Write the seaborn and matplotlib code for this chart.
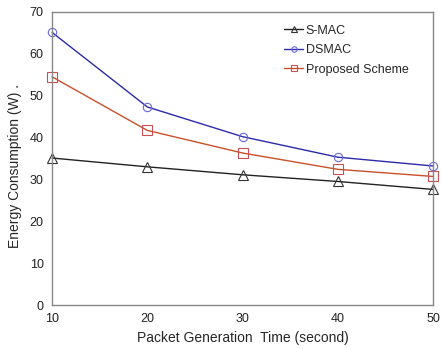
import seaborn as sns
import matplotlib.pyplot as plt
import pandas as pd

# data
packet_time = [10, 20, 30, 40, 50]
smac = [35.1, 33.0, 31.1, 29.5, 27.6]
dsmac = [65.1, 47.3, 40.2, 35.3, 33.2]
proposed = [54.5, 41.7, 36.3, 32.4, 30.7]

df = pd.DataFrame({
    "time": packet_time * 3,
    "energy": smac + dsmac + proposed,
    "scheme": ["S-MAC"] * 5 + ["DSMAC"] * 5 + ["Proposed Scheme"] * 5,
})

sns.set_style("white")
plt.rcParams['font.family'] = ['Liberation Sans', 'DejaVu Sans']

fig = plt.figure(figsize=(4.41, 3.49), dpi=100)
ax = fig.add_axes([0.118, 0.126, 0.864, 0.840])

line_colors = {"S-MAC": "#222222", "DSMAC": "#2b2ba8", "Proposed Scheme": "#c8502a"}
marker_colors = {"S-MAC": "#333333", "DSMAC": "#6a6ad8", "Proposed Scheme": "#c85050"}
markers = {"S-MAC": "^", "DSMAC": "o", "Proposed Scheme": "s"}
msizes = {"S-MAC": 7, "DSMAC": 6, "Proposed Scheme": 7.5}

for name in ["S-MAC", "DSMAC", "Proposed Scheme"]:
    sns.lineplot(data=df[df.scheme == name], x="time", y="energy", ax=ax,
                 color=line_colors[name], lw=1.0, marker=markers[name],
                 markersize=msizes[name], markerfacecolor="none",
                 markeredgecolor=marker_colors[name], markeredgewidth=0.8,
                 label=name, clip_on=False)

ax.set_xlim(10, 50)
ax.set_ylim(0, 70)
ax.set_xticks(packet_time)
ax.set_yticks(range(0, 71, 10))
ax.tick_params(direction="in", length=3, labelsize=9, colors="#222222", pad=6)
for s in ax.spines.values():
    s.set_color("#888888")
    s.set_linewidth(1.0)

ax.set_xlabel("Packet Generation  Time (second)", fontsize=10, labelpad=4)
ax.set_ylabel("Energy Consumption (W) .", fontsize=10)
ax.yaxis.set_label_coords(-0.078, 0.475)

ax.legend(loc="upper right", bbox_to_anchor=(0.965, 0.995), frameon=False,
          fontsize=9, handlelength=1.5, handletextpad=0.2, labelspacing=0.6,
          markerscale=0.65)

fig.savefig("out.png", dpi=100)
